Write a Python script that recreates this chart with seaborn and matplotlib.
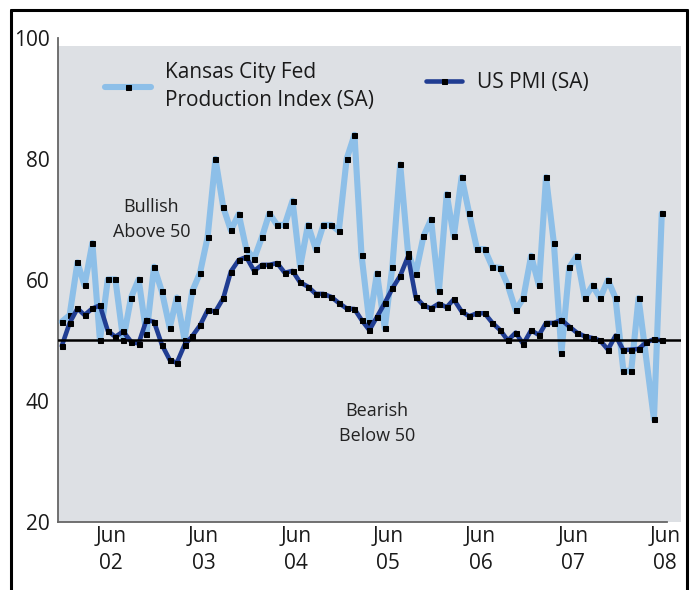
import numpy as np
import pandas as pd
import seaborn as sns
import matplotlib.pyplot as plt
import matplotlib.dates as mdates
from matplotlib.lines import Line2D

# monthly readings, Dec 2001 .. Jun 2008
months = pd.date_range("2001-12-01", periods=79, freq="MS")

# Kansas City Fed production index (no reading shown for Apr 2008)
kc_index = [53.1, 54.2, 62.9, 59.1, 66.1, 50.0, 60.1, 60.1, 50.1, 57.1,
            60.1, 51.0, 62.2, 58.1, 52.1, 57.1, 50.1, 58.1, 61.2, 67.1,
            80.0, 72.0, 68.2, 70.9, 65.1, 63.5, 67.1, 71.0, 69.1, 69.1,
            73.1, 62.2, 69.1, 65.1, 69.1, 69.1, 68.1, 80.0, 84.0, 64.1,
            53.0, 61.1, 52.0, 62.2, 79.1, 64.5, 61.0, 67.2, 70.0, 58.1,
            74.2, 67.2, 77.0, 71.0, 65.1, 65.1, 62.1, 62.0, 59.1, 55.0,
            57.0, 64.0, 59.1, 77.0, 66.1, 48.0, 62.1, 64.0, 57.0, 59.1,
            57.0, 60.0, 57.0, 45.0, 45.0, 57.0, 37.0, 71.0]
kc_months = months.delete(76)

# US PMI
us_pmi = [49.1, 52.9, 55.3, 54.2, 55.3, 55.8, 51.6, 50.6, 51.5, 49.8,
          49.5, 53.4, 53.1, 49.3, 46.8, 46.3, 49.3, 50.7, 52.5, 55.0,
          54.8, 57.0, 61.4, 63.3, 63.8, 61.5, 62.5, 62.5, 62.8, 61.2,
          61.5, 59.6, 58.9, 57.7, 57.7, 57.2, 56.2, 55.3, 55.2, 53.4,
          51.7, 53.9, 56.2, 58.6, 60.7, 63.9, 57.2, 55.8, 55.3, 56.1,
          55.5, 56.8, 54.8, 54.0, 54.5, 54.5, 52.9, 51.7, 50.0, 51.3,
          49.4, 51.7, 50.9, 52.9, 52.9, 53.4, 52.3, 51.3, 50.7, 50.4,
          50.0, 48.5, 50.8, 48.4, 48.5, 48.6, 49.7, 50.2, 50.0]

tick_years = [2, 3, 4, 5, 6, 7, 8]

light_blue = "#8dbfe8"
dark_blue = "#203d92"
panel_gray = "#dde0e4"

sns.set_style("white")
plt.rcParams["font.family"] = ["Open Sans", "DejaVu Sans"]

fig = plt.figure(figsize=(6.96, 5.9), dpi=100)
ax = fig.add_axes([58 / 696, 68 / 590, 623 / 696, 484 / 590])
ax.set_facecolor("white")

sns.lineplot(x=kc_months, y=kc_index, ax=ax, color=light_blue, lw=4.4,
             marker="s", markersize=3.6, markerfacecolor="black",
             markeredgecolor="black", label="Kansas City Fed\nProduction Index (SA)",
             zorder=3)
sns.lineplot(x=months, y=us_pmi, ax=ax, color=dark_blue, lw=3.3,
             marker="s", markersize=3.6, markerfacecolor="black",
             markeredgecolor="black", label="US PMI (SA)", zorder=4)

ax.axhline(50, color="black", lw=1.8, zorder=5)
ax.axhspan(20, 98.7, color=panel_gray, zorder=0, lw=0)

def dnum(ts):
    return mdates.date2num(pd.Timestamp(ts))

x_left = dnum(months[0] - pd.Timedelta(days=15))
x_right = dnum(months[-1] + pd.Timedelta(days=76))
ax.set_ylim(20, 100)
ax.set_xlim(x_left, x_right)
ax.set_yticks([20, 40, 60, 80, 100])
ax.set_xticks([dnum(f"20{y:02d}-06-15") for y in tick_years])
ax.set_xticklabels([f"Jun\n{y:02d}" for y in tick_years])
ax.tick_params(axis="y", direction="in", length=8, width=1, color="#555555",
               labelsize=15, pad=6)
ax.tick_params(axis="x", length=0, labelsize=15, pad=3)
for lab in ax.get_xticklabels() + ax.get_yticklabels():
    lab.set_color("#1a1a1a")
for lab in ax.get_xticklabels():
    lab.set_linespacing(1.35)
ax.set_xlabel("")
ax.set_ylabel("")

for s in ["top", "right"]:
    ax.spines[s].set_visible(False)
for s in ["left", "bottom"]:
    ax.spines[s].set_color("#666666")
    ax.spines[s].set_linewidth(1.3)
ax.spines["bottom"].set_bounds(x_left, dnum(months[-1] + pd.Timedelta(days=20)))

# two separate legend blocks, as in the original
handles, labels = ax.get_legend_handles_labels()
leg1 = ax.legend([handles[0]], [labels[0]], loc="upper left",
                 bbox_to_anchor=(0.045, 0.99), frameon=False, fontsize=15,
                 handlelength=2.2, handletextpad=0.7)
leg1.get_texts()[0].set_linespacing(1.45)
leg1.get_texts()[0].set_color("#1a1a1a")
ax.add_artist(leg1)
leg2 = ax.legend([handles[1]], [labels[1]], loc="upper left",
                 bbox_to_anchor=(0.56, 0.968), frameon=False, fontsize=15,
                 handlelength=1.75, handletextpad=0.7)
leg2.get_texts()[0].set_color("#1a1a1a")

ax.text(dnum("2002-11-20"), 70.0, "Bullish\nAbove 50", ha="center",
        va="center", fontsize=13, color="#222222", linespacing=1.55)
ax.text(dnum("2005-05-01"), 36.3, "Bearish\nBelow 50", ha="center",
        va="center", fontsize=13, color="#222222", linespacing=1.55)

# outer frame: left, top and right edges
fw = 2.2
fig.add_artist(Line2D([11 / 696, 11 / 696], [0, 580 / 590], transform=fig.transFigure,
                      color="black", lw=fw))
fig.add_artist(Line2D([11 / 696, 687 / 696], [580 / 590, 580 / 590],
                      transform=fig.transFigure, color="black", lw=fw))
fig.add_artist(Line2D([687 / 696, 687 / 696], [0, 580 / 590], transform=fig.transFigure,
                      color="black", lw=fw))

fig.savefig("out.png", dpi=100)
